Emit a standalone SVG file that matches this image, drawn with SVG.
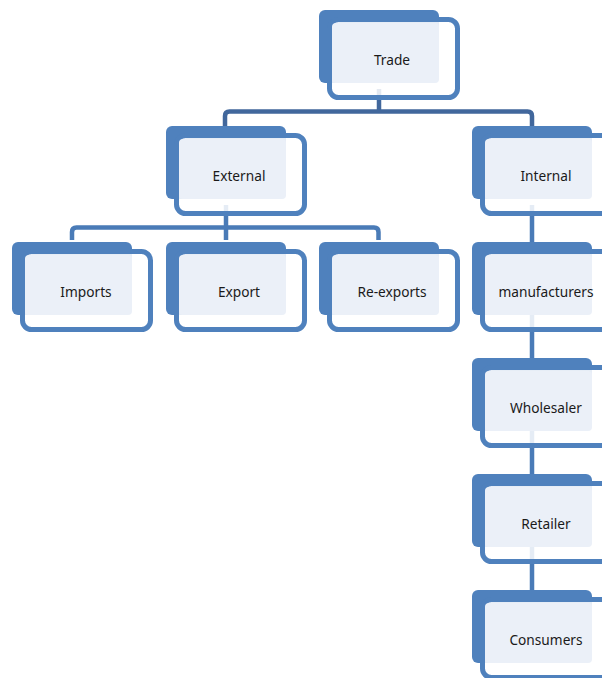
<svg xmlns="http://www.w3.org/2000/svg" width="602" height="678" viewBox="0 0 602 678">
<style>
.back{fill:#4F81BD}
.frame{fill:#fff;fill-opacity:.86;stroke:#4F81BD;stroke-width:5}
.inner{fill:#EBF0F8}
.lbl{font-family:"Noto Sans",sans-serif;font-size:13.7px;fill:#1a1a1a;text-anchor:middle}
.c1{fill:none;stroke:#41679C;stroke-width:4.5}
.c2{fill:none;stroke:#4A7BB7;stroke-width:4.5}
</style>
<defs>
<g id="node">
<rect class="back" x="0" y="0" width="120" height="73" rx="6"/>
<rect class="frame" x="10.5" y="9.5" width="128" height="78" rx="9"/>
<rect class="inner" x="13" y="13" width="107" height="60" rx="4"/>
</g>
</defs>
<g id="connectors">
<path class="c1" d="M379,89V111.5M225,126V116Q225,111.5 229.5,111.5H527.5Q532,111.5 532,116V126"/>
<path class="c2" d="M226,205V227.5M72,240V232Q72,227.5 76.5,227.5H374Q378.5,227.5 378.5,232V240M226,227.5V240"/>
<path class="c2" d="M532,205V358M532,321V474M532,437V590M532,553V600"/>
</g>
<g id="trade" transform="translate(319,10)"><use href="#node"/><text class="lbl" x="73" y="55">Trade</text></g>
<g id="external" transform="translate(166,126)"><use href="#node"/><text class="lbl" x="73" y="55">External</text></g>
<g id="internal" transform="translate(472,126)"><use href="#node"/><text class="lbl" x="74" y="55">Internal</text></g>
<g id="imports" transform="translate(12,242)"><use href="#node"/><text class="lbl" x="74" y="55">Imports</text></g>
<g id="export" transform="translate(166,242)"><use href="#node"/><text class="lbl" x="73" y="55">Export</text></g>
<g id="reexports" transform="translate(319,242)"><use href="#node"/><text class="lbl" x="73" y="55">Re-exports</text></g>
<g id="manufacturers" transform="translate(472,242)"><use href="#node"/><text class="lbl" x="74" y="55">manufacturers</text></g>
<g id="wholesaler" transform="translate(472,358)"><use href="#node"/><text class="lbl" x="74" y="55">Wholesaler</text></g>
<g id="retailer" transform="translate(472,474)"><use href="#node"/><text class="lbl" x="74" y="55">Retailer</text></g>
<g id="consumers" transform="translate(472,590)"><use href="#node"/><text class="lbl" x="74" y="55">Consumers</text></g>
</svg>
